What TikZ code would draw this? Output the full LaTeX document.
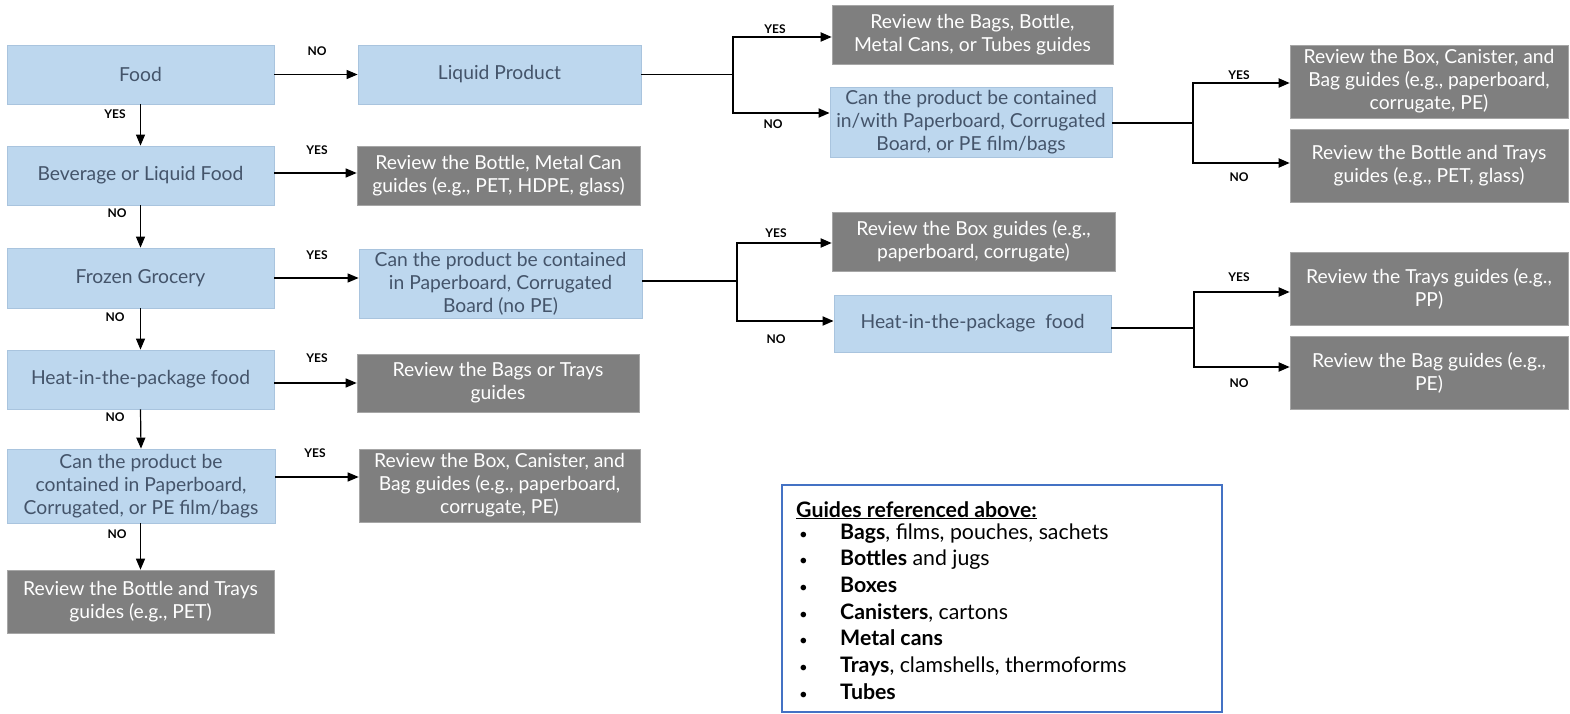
\documentclass[tikz,border=0pt]{standalone}
\usepackage{fontspec}
\setmainfont{Lato}
\usetikzlibrary{arrows.meta}
\definecolor{lblue}{HTML}{BDD7EE}
\definecolor{lborder}{HTML}{A9C4DE}
\definecolor{greybg}{HTML}{7F7F7F}
\definecolor{greyedge}{HTML}{A6A6A6}
\definecolor{txtblue}{HTML}{44546A}
\definecolor{legblue}{HTML}{4472C4}
\newcommand{\legbul}{\makebox[41pt][l]{\fontsize{15}{15}\selectfont •}}
\tikzset{
  base/.style={rectangle, inner sep=0pt, align=center, font=\fontsize{19.3}{23}\selectfont},
  qbox/.style={base, fill=lblue, draw=lborder, line width=0.8pt, text=txtblue},
  rbox/.style={base, fill=greybg, draw=greyedge, line width=0.6pt, text=white},
  lab/.style={font=\bfseries\fontsize{12}{13}\selectfont, inner sep=0pt},
  arr/.style={line width=1.2pt, -{Triangle[length=11pt,width=9pt]}},
  brl/.style={line width=1.8pt},
  brarr/.style={line width=1.8pt, -{Triangle[length=11pt,width=9pt]}},
  legtxt/.style={anchor=base west, inner sep=0pt, font=\fontsize{21.3}{24}\selectfont},
}
\begin{document}
\begin{tikzpicture}[x=1pt,y=-1pt]
\useasboundingbox (0,0) rectangle (1570,714);
% left column
\node[qbox, minimum width=267pt, minimum height=59pt] (food) at (140.5,74.5) {Food};
\node[qbox, minimum width=267pt, minimum height=59pt] (bev) at (140.5,175.5) {Beverage or Liquid Food};
\node[qbox, minimum width=267pt, minimum height=60pt] (frozen) at (140.5,278) {Frozen Grocery};
\node[qbox, minimum width=267pt, minimum height=59pt] (heat) at (140.5,379.5) {Heat-in-the-package food};
\node[qbox, minimum width=268pt, minimum height=74pt] (canL) at (141,486) {Can the product be\\contained in Paperboard,\\Corrugated, or PE film/bags};
\node[rbox, minimum width=267pt, minimum height=63pt] (revBT) at (140.5,601.5) {Review the Bottle and Trays\\guides (e.g., PET)};
% middle column
\node[qbox, minimum width=283pt, minimum height=59pt] (liquid) at (499.5,74.5) {Liquid Product};
\node[rbox, minimum width=283pt, minimum height=59pt] (revBMC) at (498.5,175.5) {Review the Bottle, Metal Can\\guides (e.g., PET, HDPE, glass)};
\node[qbox, minimum width=283pt, minimum height=69pt] (canNoPE) at (500.5,283.5) {Can the product be contained\\in Paperboard, Corrugated\\Board (no PE)};
\node[rbox, minimum width=282pt, minimum height=58pt] (revBgT) at (498,383) {Review the Bags or Trays\\guides};
\node[rbox, minimum width=281pt, minimum height=73pt] (revBCB) at (499.5,485.5) {Review the Box, Canister, and\\Bag guides (e.g., paperboard,\\corrugate, PE)};
% third column
\node[rbox, minimum width=281pt, minimum height=59pt] (revBags) at (972.5,34.5) {Review the Bags, Bottle,\\Metal Cans, or Tubes guides};
\node[qbox, minimum width=282pt, minimum height=70pt] (canWith) at (971,122) {Can the product be contained\\in/with Paperboard, Corrugated\\Board, or PE film/bags};
\node[rbox, minimum width=283pt, minimum height=59pt] (revBox) at (973.5,241.5) {Review the Box guides (e.g.,\\paperboard, corrugate)};
\node[qbox, minimum width=277pt, minimum height=57pt] (heatR) at (972.5,323.5) {Heat-in-the-package\ \ food};
% right column
\node[rbox, minimum width=278pt, minimum height=73pt] (revBCB2) at (1429,81.5) {Review the Box, Canister, and\\Bag guides (e.g., paperboard,\\corrugate, PE)};
\node[rbox, minimum width=278pt, minimum height=73pt] (revBT3) at (1429,165.5) {Review the Bottle and Trays\\guides (e.g., PET, glass)};
\node[rbox, minimum width=278pt, minimum height=73pt] (revTrays) at (1429,288.5) {Review the Trays guides (e.g.,\\PP)};
\node[rbox, minimum width=278pt, minimum height=73pt] (revBag) at (1429,372.5) {Review the Bag guides (e.g.,\\PE)};
% left vertical connectors
\draw[arr] (food.south) -- (bev.north);
\draw[arr] (bev.south) -- (frozen.north);
\draw[arr] (frozen.south) -- (heat.north);
\draw[arr] (heat.south) -- (canL.north);
\draw[arr] (canL.south -| revBT.north) -- (revBT.north);
% left horizontal connectors
\draw[arr] (food.east) -- (food.east -| liquid.west);
\draw[arr] ([yshift=2.5pt]bev.east) -- ([yshift=2.5pt]bev.east -| revBMC.west);
\draw[arr] (frozen.east) -- (frozen.east -| canNoPE.west);
\draw[arr] ([yshift=-3.5pt]heat.east) -- ([yshift=-3.5pt]heat.east -| revBgT.west);
\draw[arr] ([yshift=9pt]canL.east) -- ([yshift=9pt]canL.east -| revBCB.west);
% branch 1
\coordinate (j1) at (733,74.5);
\draw[brl] (liquid.east) -- (j1);
\draw[brarr] (j1) |- ([yshift=-2.5pt]revBags.west);
\draw[brarr] (j1) |- ([yshift=9pt]canWith.west);
% branch 2
\coordinate (j2) at (1193,123);
\draw[brl] ([yshift=-1pt]canWith.east) -- (j2);
\draw[brarr] (j2) |- ([yshift=-1.5pt]revBCB2.west);
\draw[brarr] (j2) |- ([yshift=2.5pt]revBT3.west);
% branch 3
\coordinate (j3) at (737,281);
\draw[brl] ([yshift=2.5pt]canNoPE.east) -- (j3);
\draw[brarr] (j3) |- ([yshift=-1.5pt]revBox.west);
\draw[brarr] (j3) |- ([yshift=2.5pt]heatR.west);
% branch 4
\coordinate (j4) at (1194,328);
\draw[brl] ([yshift=-4.5pt]heatR.east) -- (j4);
\draw[brarr] (j4) |- ([yshift=-3.5pt]revTrays.west);
\draw[brarr] (j4) |- ([yshift=5.5pt]revBag.west);
% labels
\node[lab] (l1) at (317,51) {NO};
\node[lab] (l2) at (317,150) {YES};
\node[lab] (l3) at (317,255) {YES};
\node[lab] (l4) at (317,358) {YES};
\node[lab] (l5) at (315,453) {YES};
\node[lab] (l6) at (115,114) {YES};
\node[lab] (l7) at (117,213) {NO};
\node[lab] (l8) at (115,317) {NO};
\node[lab] (l9) at (115,417) {NO};
\node[lab] (l10) at (117,534) {NO};
\node[lab] (l11) at (775,29) {YES};
\node[lab] (l12) at (773,124) {NO};
\node[lab] (l13) at (1239,75) {YES};
\node[lab] (l14) at (1239,177) {NO};
\node[lab] (l15) at (776,233) {YES};
\node[lab] (l16) at (776,339) {NO};
\node[lab] (l17) at (1239,277) {YES};
\node[lab] (l18) at (1239,383) {NO};
% legend
\node[draw=legblue, line width=2pt, minimum width=440pt, minimum height=227pt, inner sep=0pt] (legend) at (1002,598.5) {};
\node[legtxt] (lh) at (796,517) {\textbf{\underline{Guides referenced above:}}};
\node[legtxt] (g1) at (799,539) {\legbul\textbf{Bags}, films, pouches, sachets};
\node[legtxt] (g2) at (799,565.7) {\legbul\textbf{Bottles} and jugs};
\node[legtxt] (g3) at (799,592.4) {\legbul\textbf{Boxes}};
\node[legtxt] (g4) at (799,619.1) {\legbul\textbf{Canisters}, cartons};
\node[legtxt] (g5) at (799,645.8) {\legbul\textbf{Metal cans}};
\node[legtxt] (g6) at (799,672.5) {\legbul\textbf{Trays}, clamshells, thermoforms};
\node[legtxt] (g7) at (799,699.2) {\legbul\textbf{Tubes}};
\end{tikzpicture}
\end{document}
